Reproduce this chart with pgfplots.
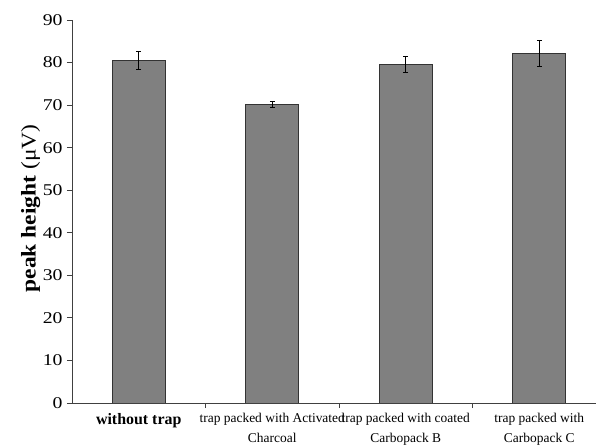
\documentclass[border=0pt]{standalone}
\usepackage{fontspec}
\setmainfont{Liberation Serif}
\newfontfamily\tickfont{Liberation Serif}[FakeStretch=1.2]
\newfontfamily\ylabfont{Liberation Serif}[FakeStretch=1.12]
\usepackage{pgfplots}
\pgfplotsset{compat=1.18}
\pgfplotstableread{
x y e
0 80.6 2.1
1 70.2 0.75
2 79.6 1.9
3 82.2 3.0
}\datatab
\begin{document}
\begin{tikzpicture}
\useasboundingbox (-72bp,-43bp) rectangle (524bp,403bp);
\begin{axis}[
  at={(0,0)}, anchor=south west,
  width=524bp, height=383bp, scale only axis,
  xmin=-0.5, xmax=3.425, ymin=0, ymax=90,
  axis x line*=bottom, axis y line*=left,
  axis line style={draw=black!75, line width=0.8bp},
  tick style={draw=black!75, line width=0.8bp},
  tick align=outside, major tick length=5bp,
  ytick={0,10,...,90},
  yticklabel style={font=\tickfont\fontsize{16.5}{16.5}\selectfont, xshift=-1bp},
  /pgf/number format/assume math mode=true,
  xtick={0.5,1.5,2.5}, xticklabels={},
  extra x ticks={0,1,2,3},
  extra x tick style={major tick length=0pt},
  extra x tick labels={{\fontsize{16}{18}\selectfont\bfseries without trap},
    {trap packed with Activated\\Charcoal},
    {trap packed with coated\\Carbopack B},
    {trap packed with\\Carbopack C}},
  xticklabel style={align=center, font=\fontsize{13.5}{20}\selectfont, yshift=-7bp},
  ylabel={{\bfseries peak height} (μV)},
  ylabel style={font=\ylabfont\fontsize{21}{21}\selectfont, at={(axis description cs:-0.079,0.508)}, anchor=center},
  ybar, bar width=53bp,
]
\addplot[fill=black!50, draw=black!80, line width=0.8bp,
  error bars/.cd, y dir=both, y explicit,
  error bar style={black, line width=0.8bp},
  error mark options={rotate=90, mark size=2.4bp, black, line width=0.8bp}]
  table[x=x, y=y, y error=e]{\datatab};
\end{axis}
\end{tikzpicture}
\end{document}
